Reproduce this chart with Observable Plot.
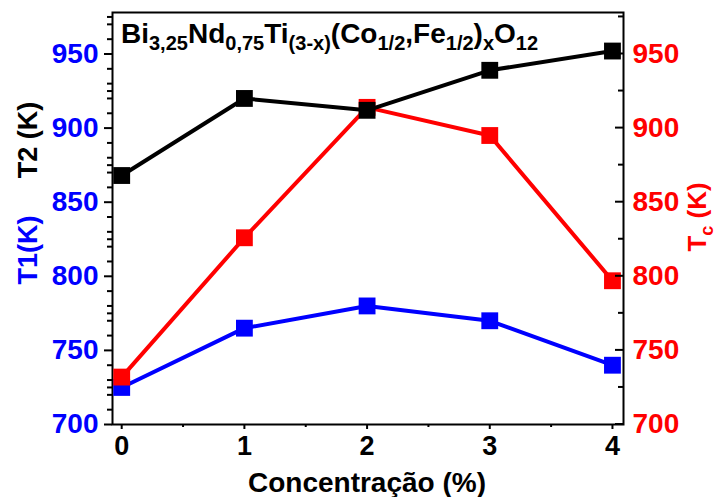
<!DOCTYPE html>
<html><head><meta charset="utf-8">
<script src="https://cdn.jsdelivr.net/npm/d3@7"></script>
<script src="https://cdn.jsdelivr.net/npm/@observablehq/plot@0.6"></script>
<style>
body{margin:0;background:#fff}
svg{font-family:Arial,"Liberation Sans",sans-serif}
</style>
</head><body><div id="chart"></div>
<script>
// Substitution level x (%) and the transition temperatures (K)
const concentration = [0, 1, 2, 3, 4];
const t2 = [868, 920, 912, 939, 952];
const tc = [732, 826, 914, 895, 797];
const t1 = [725, 765, 780, 770, 740];
const xTicks = [0, 1, 2, 3, 4];
const xMinor = [0.5, 1.5, 2.5, 3.5];
const yTicks = [700, 750, 800, 850, 900, 950];
const yMinorLeft = [710,720,725,730,740,760,770,775,780,790,810,820,825,830,840,860,870,875,880,890,910,920,925,930,940,960,970,975];
const yMinorRight = [725, 775, 825, 875, 925, 975];

const rows = (vals) => concentration.map((c, i) => ({c, v: vals[i]}));
const T1 = rows(t1), TC = rows(tc), T2 = rows(t2);

const font = {fontSize: 28, fontWeight: "bold"};

const plot = Plot.plot({
  width: 718, height: 497,
  marginLeft: 112, marginRight: 95, marginTop: 12, marginBottom: 73,
  style: {fontFamily: "Arial, 'Liberation Sans', sans-serif", background: "#fff", overflow: "visible"},
  x: {domain: [-0.075, 4.09], label: null},
  y: {domain: [700, 978], label: null},
  marks: [
    // x axis
    Plot.axisX(xTicks, {anchor: "bottom", tickSize: 5, strokeWidth: 2, tickPadding: 6, fill: "black", tickFormat: d3.format("d"), ...font, fontSize: 27, label: null}),
    Plot.axisX(xMinor, {anchor: "bottom", tickSize: 3, strokeWidth: 2, tickFormat: () => "", label: null}),
    // left axis (T1 / T2)
    Plot.axisY(yTicks, {anchor: "left", tickSize: 8, strokeWidth: 2, stroke: "black", tickFormat: () => "", label: null}),
    Plot.axisY(yMinorLeft, {anchor: "left", tickSize: 5, strokeWidth: 2, stroke: "black", tickFormat: () => "", label: null}),
    Plot.axisY(yTicks, {anchor: "left", tickSize: 0, tickPadding: 14, fill: "#0000ff", ...font, label: null}),
    // right axis (Tc)
    Plot.axisY(yTicks, {anchor: "right", tickSize: 0, tickPadding: 9, fill: "#ff0000", ...font, label: null}),
    Plot.frame({stroke: "black", strokeWidth: 2}),
    // series
    Plot.line(T1, {x: "c", y: "v", stroke: "#0000ff", strokeWidth: 4}),
    Plot.dot(T1, {x: "c", y: "v", symbol: "square", r: 9.5, fill: "#0000ff"}),
    Plot.line(TC, {x: "c", y: "v", stroke: "#ff0000", strokeWidth: 4}),
    Plot.dot(TC, {x: "c", y: "v", symbol: "square", r: 9.5, fill: "#ff0000"}),
    Plot.line(T2, {x: "c", y: "v", stroke: "#000000", strokeWidth: 4}),
    Plot.dot(T2, {x: "c", y: "v", symbol: "square", r: 9.5, fill: "#000000"})
  ]
});

document.getElementById("chart").appendChild(plot);

const svg = d3.select(plot);
const xs = plot.scale("x"), ys = plot.scale("y");
const xRight = xs.apply(4.09);

// inward ticks on the right axis
const rt = svg.append("g").attr("stroke", "black").attr("stroke-width", 2);
yTicks.forEach(v => rt.append("line").attr("x1", xRight - 8).attr("x2", xRight).attr("y1", ys.apply(v)).attr("y2", ys.apply(v)));
yMinorRight.filter(v => v < 978).forEach(v => rt.append("line").attr("x1", xRight - 5).attr("x2", xRight).attr("y1", ys.apply(v)).attr("y2", ys.apply(v)));

// text with subscripts: parts = [[text, isSub], ...]
function rich(g, parts, subSize, shift) {
  let prevSub = false;
  parts.forEach(([t, sub]) => {
    const ts = g.append("tspan").text(t);
    if (sub) ts.attr("font-size", subSize);
    const dy = sub && !prevSub ? shift : (!sub && prevSub ? -shift : 0);
    if (dy) ts.attr("dy", dy);
    prevSub = !!sub;
  });
}

// compound formula
const title = svg.append("text").attr("x", 121).attr("y", 43).attr("text-anchor", "start")
  .attr("font-size", 28).attr("font-weight", "bold").attr("fill", "black");
rich(title, [["Bi",0],["3,25",1],["Nd",0],["0,75",1],["Ti",0],["(3-x)",1],["(Co",0],["1/2",1],[",Fe",0],["1/2",1],[")",0],["x",1],["O",0],["12",1]], 20, 7);

// left axis titles
svg.append("text").attr("transform", "translate(37,250) rotate(-90)").attr("text-anchor", "middle")
  .attr("font-size", 27).attr("font-weight", "bold").attr("fill", "#0000ff").text("T1(K)");
svg.append("text").attr("transform", "translate(37,140) rotate(-90)").attr("text-anchor", "middle")
  .attr("font-size", 27).attr("font-weight", "bold").attr("fill", "black").text("T2 (K)");

// right axis title
const rtitle = svg.append("text").attr("transform", "translate(706,217) rotate(-90)").attr("text-anchor", "middle")
  .attr("font-size", 26).attr("font-weight", "bold").attr("fill", "#ff0000");
rich(rtitle, [["T",0],["c",1],[" (K)",0]], 18, 7);

// x axis title
svg.append("text").attr("x", 367).attr("y", 492).attr("text-anchor", "middle")
  .attr("font-size", 28).attr("font-weight", "bold").attr("fill", "black").text("Concentração (%)");
</script>
</body></html>
